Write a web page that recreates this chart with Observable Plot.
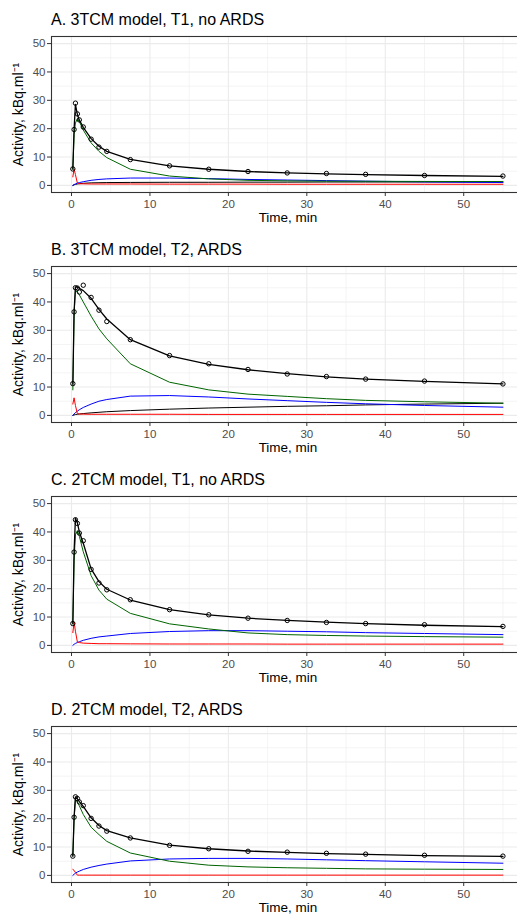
<!DOCTYPE html>
<html>
<head>
<meta charset="utf-8">
<script src="https://cdn.jsdelivr.net/npm/d3@7"></script>
<script src="https://cdn.jsdelivr.net/npm/@observablehq/plot@0.6"></script>
<style>
  html, body { margin: 0; padding: 0; background: #fff; overflow: hidden; width: 517px; height: 914px; }
  .panel { position: relative; width: 517px; height: 230px; overflow: visible; }
  .ptitle { position: absolute; left: 51px; top: 9.5px; font-family: "Liberation Sans", Arial, Helvetica, sans-serif; font-size: 16px; line-height: 20px; color: #000; white-space: nowrap; }
  .panel svg { position: absolute; left: 0; top: 30px; max-width: none !important; }
</style>
</head>
<body>
<div id="root"></div>
<script>
// ---- data ----
const time = [0.17, 0.33, 0.5, 0.75, 1, 1.5, 2.5, 3.5, 4.5, 7.5, 12.5, 17.5, 22.5, 27.5, 32.5, 37.5, 45, 55];
const titles = ["A. 3TCM model, T1, no ARDS", "B. 3TCM model, T2, ARDS", "C. 2TCM model, T1, no ARDS", "D. 2TCM model, T2, ARDS"];
const xTicks = [0, 10, 20, 30, 40, 50];
const xMinor = [5, 15, 25, 35, 45, 55];
const yTicks = [0, 10, 20, 30, 40, 50];
const yMinor = [5, 15, 25, 35, 45];
const xLabel = "Time, min";
const yLabel = "Activity, kBq.ml\u207B\u00B9";

// Panel A
const measuredA = [5.8, 19.7, 29.0, 25.2, 23.1, 20.6, 16.3, 13.5, 12.0, 9.1, 6.9, 5.7, 4.9, 4.4, 4.2, 3.9, 3.5, 3.3];
const fitA      = [5.8, 19.8, 28.6, 25.0, 23.0, 20.5, 16.5, 13.8, 12.0, 9.2, 6.9, 5.7, 4.9, 4.4, 4.1, 3.8, 3.5, 3.2];
const greenA    = [5.6, 18.0, 22.0, 23.5, 22.5, 19.5, 15.0, 12.0, 9.8, 5.7, 3.3, 2.3, 1.8, 1.6, 1.5, 1.45, 1.4, 1.35];
const blueA     = [0, 0.3, 0.5, 0.8, 1.0, 1.3, 1.8, 2.1, 2.3, 2.6, 2.6, 2.4, 2.1, 1.9, 1.7, 1.5, 1.25, 1.0];
const redA      = [3.0, 5.8, 3.8, 0.8, 0.6, 0.55, 0.5, 0.5, 0.5, 0.5, 0.45, 0.45, 0.45, 0.4, 0.4, 0.4, 0.4, 0.4];
const black2A   = [0, 0.2, 0.35, 0.5, 0.6, 0.75, 0.9, 0.95, 1.0, 1.05, 1.1, 1.1, 1.15, 1.15, 1.2, 1.2, 1.2, 1.2];

// Panel B
const measuredB = [11.2, 36.5, 45.0, 44.9, 43.5, 45.9, 41.6, 37.1, 33.1, 26.7, 21.1, 18.2, 16.2, 14.6, 13.7, 12.8, 12.1, 11.1];
const fitB      = [11.0, 36.5, 45.2, 45.3, 44.8, 44.0, 41.3, 37.4, 34.0, 26.7, 21.0, 18.0, 16.1, 14.7, 13.6, 12.8, 12.0, 11.1];
const greenB    = [9.0, 36.0, 44.0, 43.5, 42.5, 40.0, 35.0, 30.5, 27.0, 18.2, 11.7, 9.0, 7.5, 6.7, 5.9, 5.3, 4.8, 4.3];
const blueB     = [0, 0.5, 1.0, 1.5, 2.0, 2.8, 4.0, 5.0, 5.6, 6.8, 7.0, 6.5, 5.8, 5.2, 4.6, 4.1, 3.5, 2.9];
const redB      = [4.0, 6.2, 3.5, 0.6, 0.5, 0.45, 0.4, 0.4, 0.4, 0.4, 0.4, 0.35, 0.35, 0.35, 0.35, 0.35, 0.35, 0.35];
const black2B   = [0, 0.15, 0.3, 0.4, 0.5, 0.65, 0.9, 1.1, 1.3, 1.7, 2.2, 2.6, 2.9, 3.2, 3.4, 3.7, 4.0, 4.3];

// Panel C
const measuredC = [7.7, 32.9, 44.3, 43.0, 39.6, 36.9, 26.8, 22.0, 19.6, 16.1, 12.6, 10.8, 9.6, 8.8, 8.1, 7.7, 7.3, 6.7];
const fitC      = [7.7, 33.0, 44.8, 43.2, 40.0, 36.0, 27.0, 22.5, 19.8, 16.0, 12.6, 10.8, 9.6, 8.8, 8.2, 7.7, 7.1, 6.6];
const greenC    = [7.5, 30.0, 39.0, 40.5, 38.5, 33.0, 24.6, 19.5, 16.3, 11.3, 7.6, 5.8, 4.4, 3.8, 3.5, 3.3, 3.1, 2.9];
const blueC     = [0, 0.4, 0.7, 1.0, 1.3, 1.8, 2.5, 3.0, 3.3, 4.2, 4.9, 5.2, 5.2, 5.0, 4.8, 4.5, 4.2, 3.8];
const redC      = [4.5, 8.2, 5.0, 1.2, 1.0, 0.8, 0.7, 0.6, 0.6, 0.55, 0.5, 0.5, 0.5, 0.45, 0.45, 0.45, 0.45, 0.45];

// Panel D
const measuredD = [6.8, 20.5, 27.7, 27.1, 25.9, 24.6, 20.1, 17.4, 15.6, 13.2, 10.6, 9.4, 8.5, 8.2, 7.8, 7.5, 7.1, 6.8];
const fitD      = [6.8, 20.5, 27.7, 27.0, 26.0, 24.3, 20.3, 17.6, 15.8, 13.2, 10.7, 9.4, 8.6, 8.1, 7.7, 7.4, 7.0, 6.7];
const greenD    = [6.8, 20.0, 26.5, 26.0, 24.5, 21.5, 17.0, 14.4, 12.0, 7.9, 5.0, 3.6, 3.0, 2.7, 2.5, 2.3, 2.2, 2.1];
const blueD     = [0, 0.4, 0.8, 1.2, 1.5, 2.1, 2.9, 3.5, 4.0, 5.1, 5.8, 6.0, 6.0, 5.8, 5.5, 5.2, 4.8, 4.3];
const redD      = [2.1, 1.8, 1.0, 0.1, 0.1, 0.1, 0.1, 0.1, 0.1, 0.1, 0.1, 0.1, 0.1, 0.1, 0.1, 0.1, 0.1, 0.1];

const panels = [
  {title: titles[0], measured: measuredA, fit: fitA, green: greenA, blue: blueA, red: redA, black2: black2A},
  {title: titles[1], measured: measuredB, fit: fitB, green: greenB, blue: blueB, red: redB, black2: black2B},
  {title: titles[2], measured: measuredC, fit: fitC, green: greenC, blue: blueC, red: redC, black2: null},
  {title: titles[3], measured: measuredD, fit: fitD, green: greenD, blue: blueD, red: redD, black2: null}
];

const FONT = '"Liberation Sans", Arial, Helvetica, sans-serif';
const toRows = arr => time.map((t, i) => ({t, v: arr[i]}));

function drawPanel(p) {
  const line = (arr, color, w) => Plot.line(toRows(arr), {x: "t", y: "v", stroke: color, strokeWidth: w});
  const marks = [
    Plot.ruleY(yMinor, {stroke: "#ebebeb", strokeWidth: 0.55}),
    Plot.ruleX(xMinor, {stroke: "#ebebeb", strokeWidth: 0.55}),
    Plot.ruleY(yTicks, {stroke: "#ebebeb", strokeWidth: 1.1}),
    Plot.ruleX(xTicks, {stroke: "#ebebeb", strokeWidth: 1.1}),
    Plot.axisX({ticks: xTicks, tickSize: 4, tickPadding: 3, stroke: "#333333", fill: "#4d4d4d", fontSize: 11.5, label: null}),
    Plot.axisY({ticks: yTicks, tickSize: 4, tickPadding: 2, stroke: "#333333", fill: "#4d4d4d", fontSize: 11.5, label: null}),
    Plot.text([xLabel], {frameAnchor: "bottom", lineAnchor: "middle", textAnchor: "middle", dy: 25, fontSize: 13.5, fill: "#000"}),
    Plot.text([yLabel], {frameAnchor: "left", lineAnchor: "middle", textAnchor: "middle", dx: -33, rotate: -90, fontSize: 14, fill: "#000"}),
  ];
  if (p.black2) marks.push(line(p.black2, "#000000", 1));
  marks.push(line(p.blue, "#0000ff", 1));
  marks.push(line(p.green, "#006400", 1));
  marks.push(line(p.red, "#ff0000", 1));
  marks.push(line(p.fit, "#000000", 1.3));
  marks.push(Plot.dot(toRows(p.measured), {x: "t", y: "v", r: 2.2, stroke: "#000", fill: "none", strokeWidth: 1}));
  marks.push(Plot.frame({stroke: "#333333", strokeWidth: 1.1}));

  return Plot.plot({
    width: 527,
    height: 200,
    marginLeft: 51,
    marginRight: 3,
    marginTop: 6,
    marginBottom: 38,
    style: {fontFamily: FONT, fontSize: "11.5px", color: "#4d4d4d", background: "transparent", overflow: "visible", maxWidth: "none"},
    x: {domain: [-2.55, 57.75], axis: null},
    y: {domain: [-2.5, 52.5], axis: null},
    marks
  });
}

const root = document.getElementById("root");
for (const p of panels) {
  const div = document.createElement("div");
  div.className = "panel";
  const t = document.createElement("div");
  t.className = "ptitle";
  t.textContent = p.title;
  div.appendChild(t);
  const svg = drawPanel(p);
  svg.style.maxWidth = "none";
  div.appendChild(svg);
  root.appendChild(div);
}
</script>
</body>
</html>
